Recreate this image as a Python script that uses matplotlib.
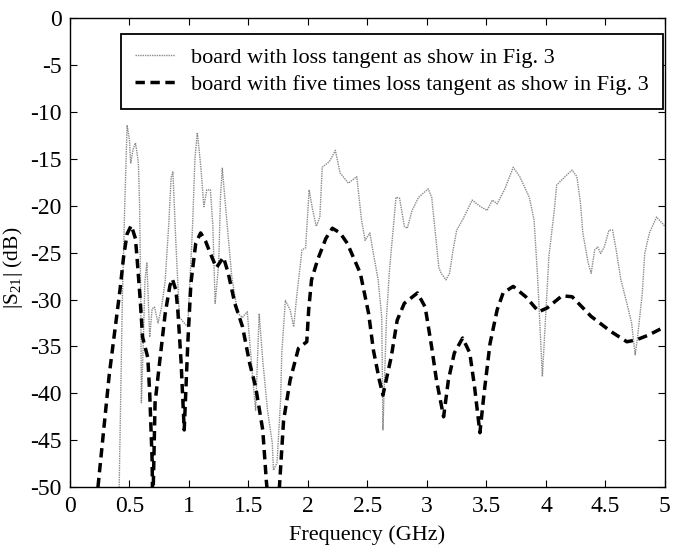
import matplotlib
matplotlib.use("Agg")
import matplotlib.pyplot as plt
import numpy as np

plt.rcParams['font.family'] = ['Liberation Serif', 'DejaVu Serif']
plt.rcParams['axes.unicode_minus'] = False
plt.rcParams['mathtext.fontset'] = 'custom'
plt.rcParams['mathtext.rm'] = 'Liberation Serif'

# Series 1: board with loss tangent as in Fig. 3 (gray dotted)
freq_a = [0.0, 0.40, 0.44, 0.46, 0.48, 0.50, 0.51, 0.53, 0.55, 0.565, 0.575, 0.585, 0.595,
          0.60, 0.615, 0.63, 0.646, 0.67, 0.69, 0.71, 0.74, 0.77, 0.80, 0.83, 0.85, 0.865,
          0.89, 0.92, 0.96, 0.99, 1.03, 1.05, 1.07, 1.10, 1.125, 1.15, 1.18, 1.20, 1.22,
          1.25, 1.265, 1.28, 1.32, 1.36, 1.41, 1.45, 1.49, 1.535, 1.56, 1.59, 1.62, 1.66,
          1.70, 1.71, 1.74, 1.77, 1.78, 1.81, 1.85, 1.88, 1.905, 1.95, 1.98, 2.01, 2.04,
          2.07, 2.10, 2.12, 2.18, 2.23, 2.27, 2.34, 2.41, 2.45, 2.48, 2.52, 2.55, 2.59,
          2.62, 2.63, 2.66, 2.685, 2.71, 2.74, 2.77, 2.81, 2.835, 2.875, 2.93, 3.01, 3.04,
          3.07, 3.10, 3.12, 3.16, 3.19, 3.22, 3.25, 3.30, 3.38, 3.45, 3.505, 3.55, 3.59,
          3.655, 3.725, 3.78, 3.86, 3.90, 3.93, 3.96, 3.97, 4.0, 4.025, 4.07, 4.09, 4.16,
          4.22, 4.26, 4.29, 4.31, 4.355, 4.38, 4.41, 4.435, 4.46, 4.49, 4.53, 4.56, 4.59,
          4.63, 4.68, 4.72, 4.75, 4.77, 4.81, 4.83, 4.87, 4.93, 5.0]
s21_a = [-60, -60, -30, -20, -11.4, -13.0, -15.5, -14.0, -13.3, -14.5, -15.5, -20, -30,
         -41, -35, -28, -26.1, -34, -31, -30.8, -32.5, -30.8, -28, -22, -17, -16.4,
         -24, -31.9, -32.5, -32.9, -22.2, -15, -12.2, -15.9, -20.1, -18.3, -18.3, -22, -30.4,
         -26.1, -19, -16, -21.9, -27.6, -31.5, -31.9, -31.3, -38.3, -41.8, -31.5, -36.5, -41.8,
         -45.3, -48.2, -47.4, -40.7, -35.7, -30.1, -31.1, -32.9, -29.7, -24.7, -24.5, -18.3, -20.5,
         -22.2, -21.2, -15.9, -15.3, -14.1, -16.5, -17.6, -16.9, -21.5, -23.7, -22.9, -25.1, -27.9,
         -31.9, -43.9, -31.9, -26.9, -23.3, -19.1, -19.2, -22.2, -22.4, -20.5, -19.1, -18.2, -19.1,
         -22.9, -26.6, -27.2, -27.9, -27.2, -24.7, -22.6, -21.5, -19.4, -20.1, -20.5, -19.4, -19.8,
         -18.2, -15.9, -16.9, -19.1, -21.5, -27.6, -35.4, -38.2, -31.1, -25.4, -20.5, -17.8, -16.9,
         -16.2, -16.9, -19.7, -22.9, -26.1, -27.2, -24.7, -24.4, -25.1, -24.4, -22.6, -22.6, -24.7,
         -27.9, -30.4, -32.5, -35.9, -34.0, -29.3, -25.1, -22.9, -21.2, -22.2]

# Series 2: board with five times loss tangent (black dashed)
freq_b = [0.235, 0.33, 0.42, 0.45, 0.48, 0.515, 0.55, 0.565, 0.59, 0.61, 0.654, 0.67, 0.69,
          0.695, 0.70, 0.715, 0.755, 0.80, 0.84, 0.86, 0.89, 0.906, 0.933, 0.96, 0.99, 1.016,
          1.057, 1.098, 1.14, 1.18, 1.23, 1.29, 1.33, 1.385, 1.45, 1.51, 1.56, 1.62, 1.65,
          1.71, 1.76, 1.795, 1.85, 1.92, 1.99, 2.006, 2.03, 2.08, 2.15, 2.205, 2.27, 2.33,
          2.44, 2.51, 2.55, 2.60, 2.63, 2.70, 2.75, 2.81, 2.92, 2.985, 3.04, 3.08, 3.14, 3.18,
          3.23, 3.30, 3.36, 3.40, 3.445, 3.48, 3.53, 3.59, 3.64, 3.725, 3.83, 3.94, 4.01,
          4.135, 4.22, 4.38, 4.545, 4.68, 4.76, 4.86, 5.0]
s21_b = [-50, -38, -29, -25.5, -23, -22.1, -23.5, -25.8, -30, -34, -36.2, -40, -47,
         -52, -50, -41, -36.5, -31.5, -28.5, -27.8, -29, -31.1, -36.5, -43.9, -34.7, -28.3,
         -24, -22.9, -23.8, -25.1, -26.6, -25.5, -27.2, -30.4, -32.9, -36.8, -39.3, -43.9, -49.3,
         -58, -50, -42.9, -38.6, -35.2, -34.5, -31.1, -27.9, -25.8, -23.5, -22.4, -22.9, -24,
         -27.2, -31.5, -35.4, -38.6, -40.2, -36.1, -32.2, -30.4, -29.3, -30.8, -35.1, -38.6, -42.5, -38.6,
         -35.7, -34.1, -35.7, -39.3, -44.2, -40, -34.7, -31.1, -29.3, -28.6, -29.7, -31.3, -30.9,
         -29.6, -29.7, -31.8, -33.4, -34.5, -34.3, -33.8, -32.9]

label_a = 'board with loss tangent as show in Fig. 3'
label_b = 'board with five times loss tangent as show in Fig. 3'
x_ticks = [0, 0.5, 1, 1.5, 2, 2.5, 3, 3.5, 4, 4.5, 5]
x_ticklabels = ['0', '0.5', '1', '1.5', '2', '2.5', '3', '3.5', '4', '4.5', '5']
y_ticks = [0, -5, -10, -15, -20, -25, -30, -35, -40, -45, -50]
y_ticklabels = ['0', '-5', '-10', '-15', '-20', '-25', '-30', '-35', '-40', '-45', '-50']

fig = plt.figure(figsize=(6.73, 5.48), dpi=100)
ax = fig.add_axes([0.104, 0.111, 0.884, 0.856])

ax.plot(freq_a, s21_a, color='#8a8a8a', lw=1.0, linestyle=(0, (1.0, 0.7)), label=label_a)
ax.plot(freq_b, s21_b, color='black', lw=2.5, linestyle=(0, (2.7, 1.6)), label=label_b)

ax.set_xlim(0, 5)
ax.set_ylim(-50, 0)
ax.set_xticks(x_ticks)
ax.set_xticklabels(x_ticklabels)
ax.set_yticks(y_ticks)
ax.set_yticklabels(y_ticklabels)
ax.tick_params(direction='in', top=True, right=True, length=5, width=0.8, labelsize=17, pad=6)
for s in ax.spines.values():
    s.set_linewidth(1.0)

ax.set_xlabel('Frequency (GHz)', fontsize=16, labelpad=6)
ax.set_ylabel(r'|S$_{21}$| (dB)', fontsize=15.5, labelpad=2)
ax.yaxis.set_label_coords(-0.076, 0.467)

leg = ax.legend(loc='upper right', bbox_to_anchor=(0.9966, 0.967), fontsize=16,
                frameon=True, fancybox=False, framealpha=1, edgecolor='black',
                handlelength=1.8, handletextpad=0.75, borderpad=0.62, labelspacing=0.3,
                borderaxespad=0)
leg.get_frame().set_linewidth(1.3)

fig.savefig('out.png', dpi=100)
